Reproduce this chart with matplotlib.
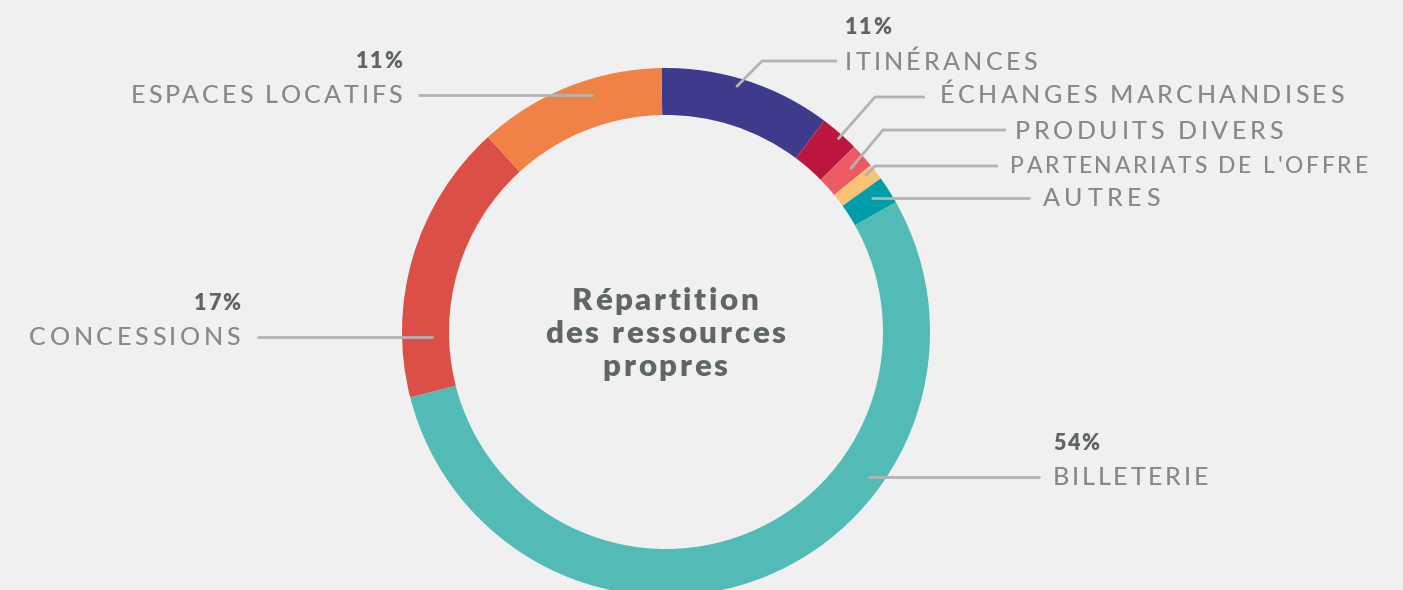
import numpy as np
import matplotlib
matplotlib.use('Agg')
import matplotlib.pyplot as plt

# data (clockwise from the top)
labels = ['ITINÉRANCES', 'ÉCHANGES MARCHANDISES', 'PRODUITS DIVERS',
          "PARTENARIATS DE L'OFFRE", 'AUTRES', 'BILLETERIE',
          'CONCESSIONS', 'ESPACES LOCATIFS']
values = [10.5, 2.4, 1.5, 1.0, 1.7, 54.2, 17.2, 11.5]
pct_shown = ['11%', None, None, None, None, '54%', '17%', '11%']
colors = ['#3e3a8c', '#bc163f', '#ec5a64', '#fbc177', '#009ea8',
          '#52bbb5', '#dc4f47', '#f08245']
title_lines = ['Répartition', 'des ressources', 'propres']

W, H = 1403, 590
BG = '#f0f0f0'
LINE = '#b3b3b3'
LBL = '#888888'
PCT = '#5f6464'

plt.rcParams['font.family'] = ['Lato', 'DejaVu Sans']

fig = plt.figure(figsize=(W / 100, H / 100), dpi=100, facecolor=BG)
ax = fig.add_axes([0, 0, 1, 1])
ax.set_facecolor(BG)

cx, cy, R, ring = 666, H - 332, 264, 47
wedges, _ = ax.pie(values, colors=colors, startangle=91, counterclock=False,
                   center=(cx, cy), radius=R, frame=True,
                   wedgeprops=dict(width=ring, linewidth=0))
ax.set_xlim(0, W)
ax.set_ylim(0, H)
ax.set_aspect('equal')
ax.axis('off')

renderer = fig.canvas.get_renderer()


def Y(ypx):
    return H - ypx


def width(s, **kw):
    t = ax.text(0, 0, s, **kw)
    w = t.get_window_extent(renderer).width
    t.remove()
    return w


def tracked(x, ybase, s, track, ha='left', **kw):
    # text with extra letter spacing, placed on a baseline (pixel coords)
    base = width('H', **kw)
    offs = [0.0] + [width(s[:i] + 'H', **kw) - base + i * track for i in range(1, len(s))]
    total = width(s, **kw) + (len(s) - 1) * track
    if ha == 'right':
        x0 = x - total
    elif ha == 'center':
        x0 = x - total / 2
    else:
        x0 = x
    for ch, o in zip(s, offs):
        if ch != ' ':
            ax.text(x0 + o, Y(ybase), ch, ha='left', va='baseline', **kw)


# leader layout: (fraction along wedge, radius, elbow (px) or None, line end x, text x, text y, side, size, tracking)
layout = [
    (0.45, 255, (762, 61), 837, 845, 61, 'left', 18, 3.2),
    (0.57, 258, (875, 97), 925, 940, 94, 'left', 18, 3.4),
    (0.57, 246, (883, 130), 1006, 1015, 130, 'left', 18, 3.6),
    (0.31, 253, (875, 166), 998, 1010, 165, 'left', 16.5, 2.8),
    (0.36, 246, None, 1030, 1043, 197, 'left', 18, 4.5),
    (0.33, 246, None, 1040, 1053, 476, 'left', 18, 2.7),
    (0.21, 233, None, 257, 240, 336, 'right', 18, 3.6),
    (0.61, 246, None, 418, 402, 94, 'right', 18, 2.9),
]

for w, lab, pct, (fr, r, elbow, xend, tx, ty, side, fs, trk) in zip(wedges, labels, pct_shown, layout):
    ang = np.deg2rad(w.theta2 - fr * (w.theta2 - w.theta1))
    ax0, ay0 = cx + r * np.cos(ang), cy + r * np.sin(ang)
    if elbow is not None:
        xs = [ax0, elbow[0], xend]
        ys = [ay0, Y(elbow[1]), Y(elbow[1])]
    else:
        xs = [ax0, xend]
        ys = [Y(ty + 1), Y(ty + 1)]
    ax.plot(xs, ys, color=LINE, lw=2, solid_capstyle='butt', zorder=3)
    tracked(tx, ty + fs * 0.5, lab, trk, ha=side, fontsize=fs, color=LBL,
            fontweight='medium')
    if pct:
        tracked(tx, ty - 34 + 7.5, pct, 1.5, ha=side, fontsize=15.5,
                color=PCT, fontweight='heavy')

for i, line in enumerate(title_lines):
    tracked(665, 310 + 33 * i, line, 2.6, ha='center', fontsize=22.5,
            fontweight='heavy', color='#5f6666')

fig.savefig('out.png', dpi=100, facecolor=BG)
